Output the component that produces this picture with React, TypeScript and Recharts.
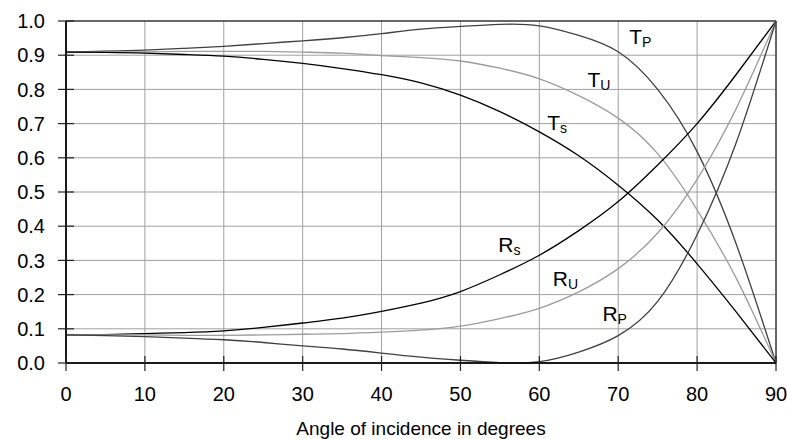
import { LineChart, Line, CartesianGrid, XAxis, YAxis, ReferenceArea, ReferenceDot } from 'recharts';

// angle of incidence in degrees
const angles = [0, 5, 10, 15, 20, 25, 30, 35, 40, 45, 50, 55, 60, 65, 70, 75, 80, 85, 90];

const tP = [0.909, 0.912, 0.915, 0.920, 0.926, 0.934, 0.942, 0.951, 0.963, 0.976, 0.984, 0.990, 0.986, 0.958, 0.910, 0.800, 0.618, 0.345, 0];
const tU = [0.909, 0.910, 0.910, 0.911, 0.911, 0.911, 0.909, 0.906, 0.899, 0.893, 0.883, 0.862, 0.831, 0.782, 0.716, 0.612, 0.448, 0.246, 0];
const tS = [0.909, 0.908, 0.906, 0.902, 0.897, 0.888, 0.876, 0.861, 0.843, 0.819, 0.783, 0.735, 0.676, 0.606, 0.520, 0.418, 0.290, 0.148, 0];
const rS = [0.082, 0.083, 0.086, 0.089, 0.094, 0.104, 0.117, 0.131, 0.151, 0.175, 0.209, 0.258, 0.315, 0.387, 0.472, 0.579, 0.700, 0.845, 1.0];
const rU = [0.082, 0.082, 0.082, 0.081, 0.081, 0.082, 0.084, 0.086, 0.090, 0.096, 0.108, 0.130, 0.160, 0.208, 0.276, 0.380, 0.537, 0.746, 1.0];
const rP = [0.082, 0.080, 0.077, 0.073, 0.068, 0.060, 0.050, 0.041, 0.029, 0.017, 0.008, 0.001, 0.004, 0.032, 0.080, 0.180, 0.375, 0.647, 1.0];

const xTicks = [0, 10, 20, 30, 40, 50, 60, 70, 80, 90];
const yTicks = [0, 0.1, 0.2, 0.3, 0.4, 0.5, 0.6, 0.7, 0.8, 0.9, 1.0];

// curve labels: [main, subscript, angle, value] at the label's left baseline
const curveLabels: [string, string, number, number][] = [
    ['T', 'P', 71.4, 0.932],
    ['T', 'U', 66.1, 0.807],
    ['T', 's', 61.0, 0.681],
    ['R', 's', 54.8, 0.325],
    ['R', 'U', 61.7, 0.224],
    ['R', 'P', 68.0, 0.124],
];

const rows = angles.map((a, i) => ({
    angle: a,
    tP: tP[i], tU: tU[i], tS: tS[i],
    rS: rS[i], rU: rU[i], rP: rP[i],
}));

const FONT = '"Liberation Sans", Arial, sans-serif';
const TICK_SIZE = 8;
const X_MARGIN = 16;
const Y_MARGIN = 13;

const DARK = '#404040';
const LIGHT = '#9c9c9c';
const BLACK = '#000000';

function XTick(props: any) {
    const { x, y, payload } = props;
    const axisY = y - TICK_SIZE - X_MARGIN;
    return (
        <g>
            <line x1={x} x2={x} y1={axisY - 7} y2={axisY + TICK_SIZE} stroke="#222" strokeWidth={1.2} />
            <text x={x} y={y} dy="0.71em" textAnchor="middle" fontSize={20} fontFamily={FONT} fill="#000">
                {payload.value}
            </text>
        </g>
    );
}

function YTick(props: any) {
    const { x, y, payload } = props;
    const axisX = x + TICK_SIZE + Y_MARGIN;
    return (
        <g>
            <line x1={axisX - TICK_SIZE} x2={axisX + 8} y1={y} y2={y} stroke="#222" strokeWidth={1.2} />
            <text x={x} y={y} dy="0.355em" textAnchor="end" fontSize={20} fontFamily={FONT} fill="#000">
                {Number(payload.value).toFixed(1)}
            </text>
        </g>
    );
}

const curveLabel = (main: string, sub: string) => (props: any) => {
    const vb = props.viewBox || {};
    const x = vb.x ?? vb.cx ?? 0;
    const y = vb.y ?? vb.cy ?? 0;
    return (
        <text x={x} y={y} fontSize={21} fontFamily={FONT} fill="#000">
            <tspan>{main}</tspan>
            <tspan fontSize={14} dy={3}>{sub}</tspan>
        </text>
    );
};

export default function App() {
    return (
        <div style={{ position: 'absolute', left: 0, top: 0, background: '#fff' }}>
            <LineChart width={787} height={439} data={rows} margin={{ top: 21, right: 11, bottom: 0, left: 0 }}>
                <CartesianGrid stroke="#a0a0a0" strokeWidth={1} />
                <XAxis
                    type="number"
                    dataKey="angle"
                    domain={[0, 90]}
                    ticks={xTicks}
                    height={76}
                    tickSize={TICK_SIZE}
                    tickMargin={X_MARGIN}
                    tickLine={false}
                    tick={<XTick />}
                    axisLine={{ stroke: '#000', strokeWidth: 1.5 }}
                    label={{ value: 'Angle of incidence in degrees', position: 'insideBottom', offset: 4, fill: '#000', fontSize: 19, fontFamily: FONT }}
                />
                <YAxis
                    type="number"
                    domain={[0, 1]}
                    ticks={yTicks}
                    width={66}
                    tickSize={TICK_SIZE}
                    tickMargin={Y_MARGIN}
                    tickLine={false}
                    tick={<YTick />}
                    axisLine={{ stroke: '#000', strokeWidth: 1.5 }}
                />
                <ReferenceArea x1={0} x2={90} y1={0} y2={1} fill="none" stroke="#000" strokeWidth={1} />
                <Line type="natural" dataKey="tP" stroke={DARK} strokeWidth={1.3} dot={false} activeDot={false} isAnimationActive={false} />
                <Line type="natural" dataKey="tU" stroke={LIGHT} strokeWidth={1.3} dot={false} activeDot={false} isAnimationActive={false} />
                <Line type="natural" dataKey="tS" stroke={BLACK} strokeWidth={1.3} dot={false} activeDot={false} isAnimationActive={false} />
                <Line type="natural" dataKey="rS" stroke={BLACK} strokeWidth={1.3} dot={false} activeDot={false} isAnimationActive={false} />
                <Line type="natural" dataKey="rU" stroke={LIGHT} strokeWidth={1.3} dot={false} activeDot={false} isAnimationActive={false} />
                <Line type="natural" dataKey="rP" stroke={DARK} strokeWidth={1.3} dot={false} activeDot={false} isAnimationActive={false} />
                {curveLabels.map(([m, s, a, v]) => (
                    <ReferenceDot key={m + s} x={a} y={v} r={0} fill="none" stroke="none" label={curveLabel(m, s)} />
                ))}
            </LineChart>
        </div>
    );
}
